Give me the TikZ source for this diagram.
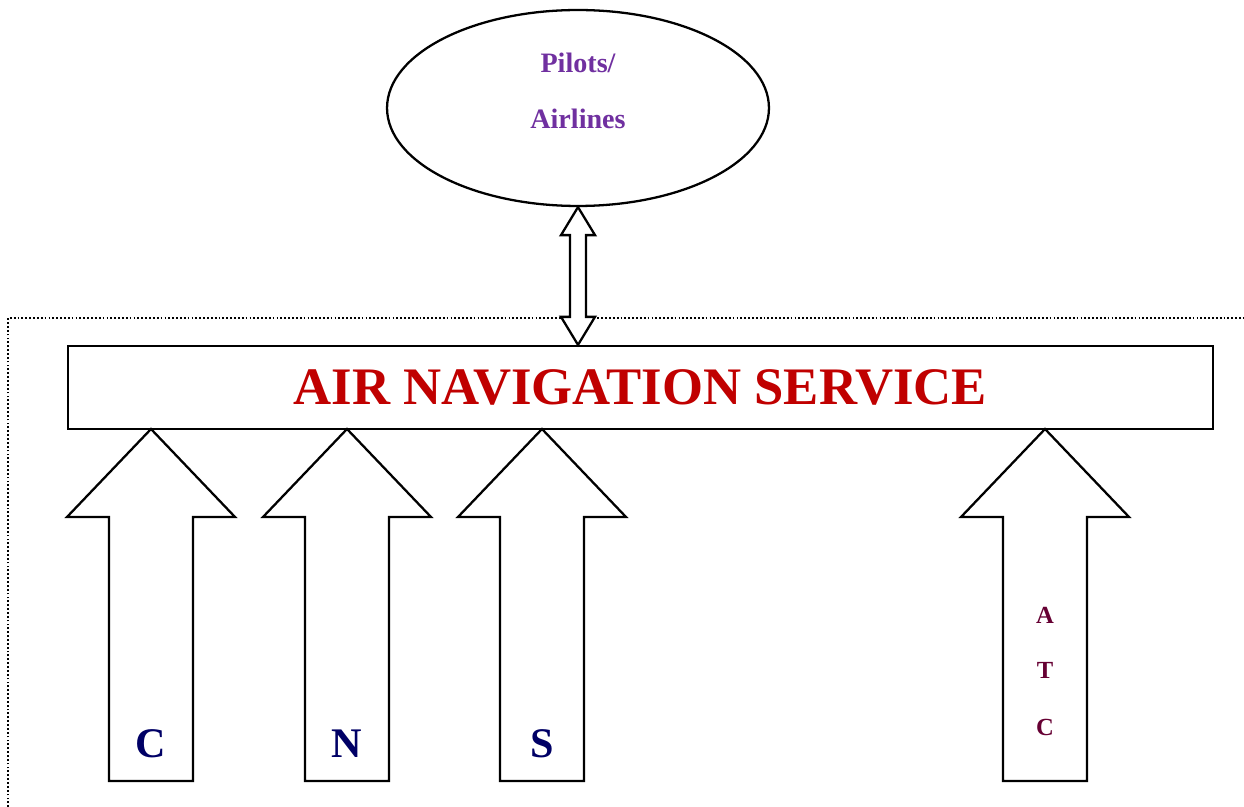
\documentclass[tikz,border=0pt]{standalone}
\usepackage{fontspec}
\setmainfont{Liberation Serif}
\usetikzlibrary{shapes.geometric,calc}
\definecolor{ansred}{RGB}{192,0,0}
\definecolor{pilpurple}{RGB}{112,48,160}
\definecolor{cnsnavy}{RGB}{0,0,102}
\definecolor{atcmaroon}{RGB}{102,0,51}
% block arrow pointing up, tip at the origin
\tikzset{uparrow/.pic={
 \draw[line width=1.3pt,fill=white] (0,0) -- (84,88) -- (42,88) -- (42,352)
 -- (-42,352) -- (-42,88) -- (-84,88) -- cycle;}}

\begin{document}
\begin{tikzpicture}[x=0.02cm,y=-0.02cm,
 every node/.style={font=\bfseries},
 users/.style={ellipse,draw,line width=1.3pt,minimum width=7.64cm,minimum height=3.92cm,inner sep=0pt},
 ansbox/.style={draw,line width=1.3pt,minimum width=22.9cm,minimum height=1.66cm,inner sep=0pt},
 usertxt/.style={anchor=base,text=pilpurple,font=\bfseries\fontsize{16}{19}\selectfont},
 cnstxt/.style={text=cnsnavy,font=\bfseries\fontsize{24}{28}\selectfont},
 atctxt/.style={text=atcmaroon,font=\bfseries\fontsize{14}{17}\selectfont},
 dblarrow/.style={line width=1.3pt,fill=white}]
 \useasboundingbox (0,0) rectangle (1244,807);
 % dotted frame round the service
 \draw[line width=1pt,dash pattern=on 1pt off 1.2pt] (8,807) -- (8,318) -- (1244,318);
 \node[users] (pil) at (578,108) {};
 \node[usertxt] (pil1) at (578,73) {Pilots/};
 \node[usertxt] (pil2) at (578,129) {Airlines};
 \node[ansbox,text=ansred,font=\bfseries\fontsize{30}{36}\selectfont] (ans) at (640.5,387.5) {AIR NAVIGATION SERVICE};
 \coordinate (top) at (pil.south |- ans.north);
 \draw[dblarrow] (pil.south) -- ($(pil.south)+(17,28)$) -- ($(pil.south)+(8,28)$)
 -- ($(top)+(8,-28)$) -- ($(top)+(17,-28)$) -- (top) -- ($(top)+(-17,-28)$)
 -- ($(top)+(-8,-28)$) -- ($(pil.south)+(-8,28)$) -- ($(pil.south)+(-17,28)$) -- cycle;
 % C, N, S and ATC feed the service
 \pic at (151,429) {uparrow};
 \pic at (347,429) {uparrow};
 \pic at (542,429) {uparrow};
 \pic at (1045,429) {uparrow};
 \node[cnstxt] (c) at (151,744) {C};
 \node[cnstxt] (n) at (347,744) {N};
 \node[cnstxt] (s) at (542,744) {S};
 \node[atctxt] (atca) at (1045,615) {A};
 \node[atctxt] (atct) at (1045,670) {T};
 \node[atctxt] (atcc) at (1045,727) {C};
\end{tikzpicture}
\end{document}
